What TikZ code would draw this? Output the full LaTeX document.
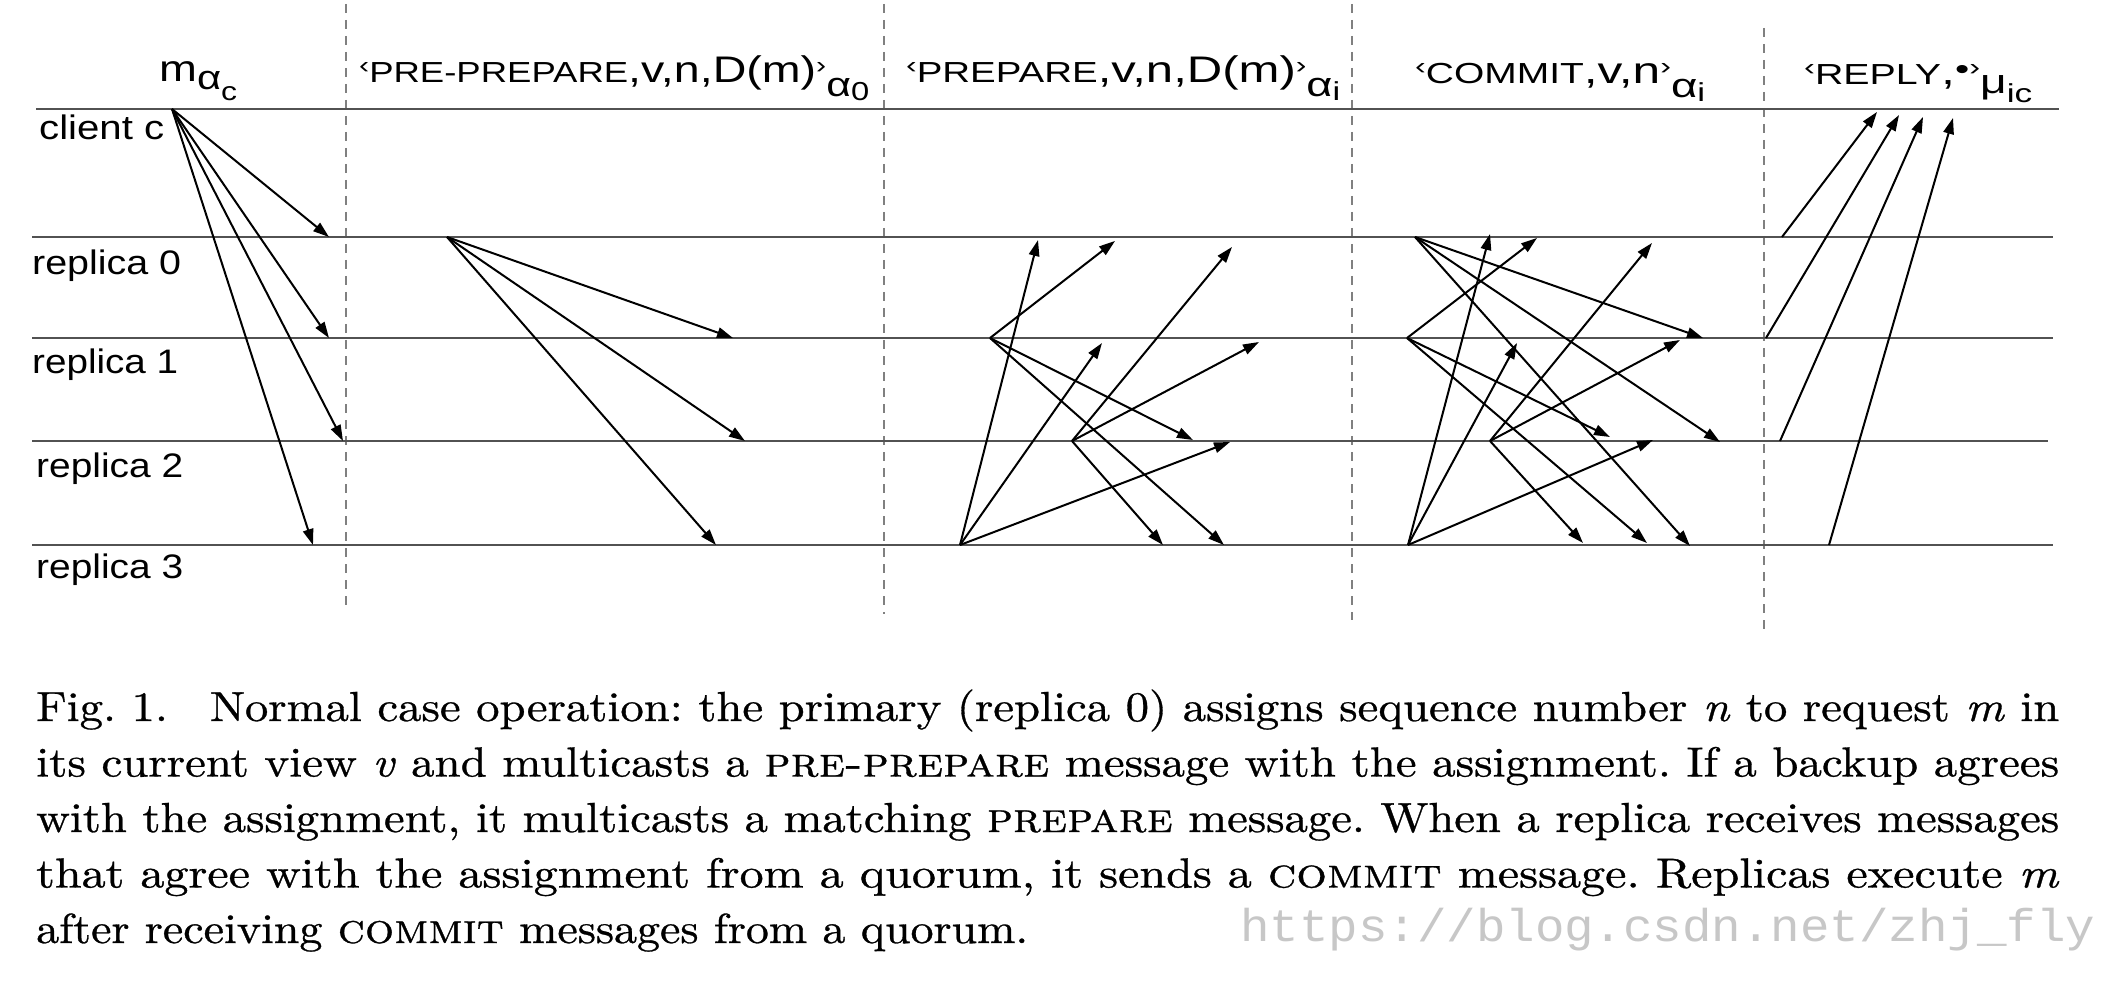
\documentclass[tikz,border=0pt]{standalone}
\usepackage{fontspec}
\usepackage{graphicx}
\usetikzlibrary{arrows.meta}
\newfontfamily\labfont{Liberation Sans}
\newfontfamily\wmfont{Liberation Mono}
\newfontfamily\capfont{lmroman10-regular.otf}[FakeBold=0.7, ItalicFont=lmroman10-italic.otf, SmallCapsFont=lmromancaps10-regular.otf]
\newcommand\mname[1]{{\fontsize{29}{29}\selectfont #1}}
\newcommand\lang{\raisebox{9pt}{\fontsize{24}{24}\selectfont ‹}}
\newcommand\rang{\raisebox{9pt}{\fontsize{24}{24}\selectfont ›}}
\newcommand\subA[1]{\raisebox{-14pt}{\fontsize{34}{34}\selectfont #1}}
\newcommand\subB[1]{\raisebox{-18pt}{\fontsize{26}{26}\selectfont #1}}
\newcommand\capline[2]{\resizebox{#1}{\height}{\capfont\frenchspacing\fontsize{42}{42}\selectfont #2}}
\tikzset{
  life/.style={line width=2.8pt, draw=black!68},
  phase/.style={line width=1.8pt, draw=black!50, dash pattern=on 9pt off 7pt},
  msg/.style={line width=2pt, draw=black, -{Triangle[length=16pt,width=10.5pt]}},
  rlabel/.style={anchor=base west, inner sep=0pt, font=\labfont\fontsize{34}{34}\selectfont},
  tlabel/.style={anchor=base west, inner sep=0pt, font=\labfont\fontsize{37}{37}\selectfont},
  capl/.style={anchor=base west, inner sep=0pt},
}
\begin{document}
\begin{tikzpicture}[x=1pt,y=-1pt]
\useasboundingbox (0,0) rectangle (2110,984);
\fill[white] (0,0) rectangle (2110,984);

% ---- phase separators
\coordinate (d1t) at (346,4);   \coordinate (d1b) at (346,612);
\coordinate (d2t) at (884,4);   \coordinate (d2b) at (884,614);
\coordinate (d3t) at (1352,4);  \coordinate (d3b) at (1352,620);
\coordinate (d4t) at (1764,28); \coordinate (d4b) at (1764,630);
\draw[phase] (d1t) -- (d1b);
\draw[phase] (d2t) -- (d2b);
\draw[phase] (d3t) -- (d3b);
\draw[phase] (d4t) -- (d4b);

% ---- time lines
\coordinate (cL) at (36,109);  \coordinate (cR) at (2059,109);
\coordinate (aL) at (32,237);  \coordinate (aR) at (2053,237);
\coordinate (bL) at (32,338);  \coordinate (bR) at (2053,338);
\coordinate (eL) at (32,441);  \coordinate (eR) at (2048,441);
\coordinate (fL) at (32,545);  \coordinate (fR) at (2053,545);
\draw[life] (cL) -- (cR);
\draw[life] (aL) -- (aR);
\draw[life] (bL) -- (bR);
\draw[life] (eL) -- (eR);
\draw[life] (fL) -- (fR);

% ---- process labels
\node[rlabel] (lc) at (39,140) {\resizebox{125pt}{\height}{client c}};
\node[rlabel] (l0) at (32,275) {\resizebox{149pt}{\height}{replica 0}};
\node[rlabel] (l1) at (32,373) {\resizebox{146pt}{\height}{replica 1}};
\node[rlabel] (l2) at (36,477) {\resizebox{147pt}{\height}{replica 2}};
\node[rlabel] (l3) at (36,578) {\resizebox{147pt}{\height}{replica 3}};

% ---- message labels
\node[tlabel] (tm) at (159,82) {\resizebox{78pt}{\height}{m\raisebox{-8pt}{\fontsize{34}{34}\selectfont α}\raisebox{-19pt}{\fontsize{26}{26}\selectfont c}}};
\node[tlabel] (tpp) at (359,83) {\resizebox{510pt}{\height}{\lang\mname{PRE-PREPARE},v,n,D(m)\rang\subA{α}\subB{0}}};
\node[tlabel] (tp) at (906,83) {\resizebox{434pt}{\height}{\lang\mname{PREPARE},v,n,D(m)\rang\subA{α}\subB{i}}};
\node[tlabel] (tc) at (1415,84) {\resizebox{290pt}{\height}{\lang\mname{COMMIT},v,n\rang\subA{α}\subB{i}}};
\node[tlabel] (tr) at (1804,85) {\resizebox{228pt}{\height}{\lang\mname{REPLY},\raisebox{5pt}{\fontsize{30}{30}\selectfont •}\rang\raisebox{-9pt}{\fontsize{34}{34}\selectfont μ}\subB{ic}}};

% ---- request
\coordinate (req) at (172,109);
\coordinate (q0) at (329,237);
\coordinate (q1) at (329,338);
\coordinate (q2) at (343,441);
\coordinate (q3) at (313,545);
\foreach \t in {q0,q1,q2,q3} \draw[msg] (req) -- (\t);

% ---- pre-prepare
\coordinate (pp) at (447,237);
\coordinate (pp1) at (733,338);
\coordinate (pp2) at (745,441);
\coordinate (pp3) at (716,545);
\foreach \t in {pp1,pp2,pp3} \draw[msg] (pp) -- (\t);

% ---- prepare
\coordinate (P1) at (990,338);
\coordinate (P2) at (1072,441);
\coordinate (P3) at (960,545);
\coordinate (P30) at (1038,240);
\coordinate (P10) at (1115,241);
\coordinate (P20) at (1232,247);
\coordinate (P31) at (1102,343);
\coordinate (P21) at (1259,342);
\coordinate (P12) at (1193,440);
\coordinate (P32) at (1230,442);
\coordinate (P23) at (1163,545);
\coordinate (P13) at (1224,545);
\draw[msg] (P1) -- (P10);
\draw[msg] (P1) -- (P12);
\draw[msg] (P1) -- (P13);
\draw[msg] (P2) -- (P20);
\draw[msg] (P2) -- (P21);
\draw[msg] (P2) -- (P23);
\draw[msg] (P3) -- (P30);
\draw[msg] (P3) -- (P31);
\draw[msg] (P3) -- (P32);

% ---- commit
\coordinate (C0) at (1415,237);
\coordinate (C1) at (1407,338);
\coordinate (C2) at (1490,441);
\coordinate (C3) at (1408,545);
\coordinate (C30) at (1490,234);
\coordinate (C10) at (1537,238);
\coordinate (C20) at (1652,243);
\coordinate (C31) at (1517,343);
\coordinate (C21) at (1680,340);
\coordinate (C01) at (1703,338);
\coordinate (C12) at (1610,437);
\coordinate (C32) at (1653,440);
\coordinate (C02) at (1720,442);
\coordinate (C23) at (1583,543);
\coordinate (C13) at (1647,543);
\coordinate (C03) at (1690,546);
\draw[msg] (C0) -- (C01);
\draw[msg] (C0) -- (C02);
\draw[msg] (C0) -- (C03);
\draw[msg] (C1) -- (C10);
\draw[msg] (C1) -- (C12);
\draw[msg] (C1) -- (C13);
\draw[msg] (C2) -- (C20);
\draw[msg] (C2) -- (C21);
\draw[msg] (C2) -- (C23);
\draw[msg] (C3) -- (C30);
\draw[msg] (C3) -- (C31);
\draw[msg] (C3) -- (C32);

% ---- reply
\coordinate (R0) at (1782,237);
\coordinate (R1) at (1766,338);
\coordinate (R2) at (1780,441);
\coordinate (R3) at (1829,545);
\coordinate (Rc0) at (1877,112);
\coordinate (Rc1) at (1899,115);
\coordinate (Rc2) at (1923,117);
\coordinate (Rc3) at (1953,118);
\draw[msg] (R0) -- (Rc0);
\draw[msg] (R1) -- (Rc1);
\draw[msg] (R2) -- (Rc2);
\draw[msg] (R3) -- (Rc3);

% ---- caption (one node per printed line)
\node[capl] (cap1) at (36,721) {\capline{2023pt}{Fig.~1.\hspace{0.9em}Normal case operation: the primary (replica 0) assigns sequence number \textit{n} to request \textit{m} in}};
\node[capl] (cap2) at (36,776.5) {\capline{2023pt}{its current view \textit{v} and multicasts a \textsc{pre-prepare} message with the assignment. If a backup agrees}};
\node[capl] (cap3) at (36,832) {\capline{2023pt}{with the assignment, it multicasts a matching \textsc{prepare} message. When a replica receives messages}};
\node[capl] (cap4) at (36,887.5) {\capline{2023pt}{that agree with the assignment from a quorum, it sends a \textsc{commit} message. Replicas execute \textit{m}}};
\node[capl] (cap5) at (36,943) {\capline{992pt}{after receiving \textsc{commit} messages from a quorum.}};

% ---- watermark
\node[anchor=base west, inner sep=0pt, text=black!22] (wm) at (1240,941) {\resizebox{855pt}{\height}{\wmfont\fontsize{46}{46}\selectfont https://blog.csdn.net/zhj\_fly}};
\end{tikzpicture}
\end{document}
